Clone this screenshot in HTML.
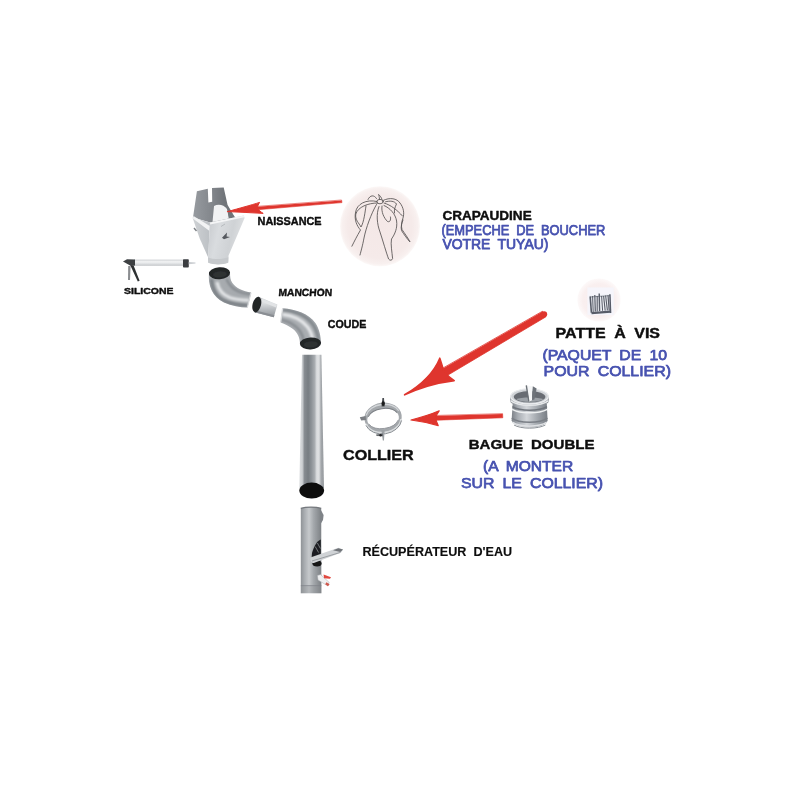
<!DOCTYPE html>
<html>
<head>
<meta charset="utf-8">
<title>Descente de gouttiere</title>
<style>
html,body{margin:0;padding:0;background:#fff;}
body{width:800px;height:800px;overflow:hidden;font-family:"Liberation Sans",sans-serif;}
svg{display:block;}
text{font-family:"Liberation Sans",sans-serif;font-weight:bold;word-spacing:3.5px;}
.k{fill:#0a0a0a;stroke:#0a0a0a;stroke-width:0.38;stroke-linejoin:round;}
.b{fill:#4752b0;stroke:#4752b0;stroke-width:0.75;stroke-linejoin:round;font-weight:normal;}
</style>
</head>
<body>
<svg width="800" height="800" viewBox="0 0 800 800">
<defs>
<filter id="soft" x="-5%" y="-5%" width="110%" height="110%"><feGaussianBlur stdDeviation="0.55"/></filter>
<filter id="soft3" x="-10%" y="-10%" width="120%" height="120%"><feGaussianBlur stdDeviation="0.9"/></filter>
<filter id="soft2" x="-5%" y="-5%" width="110%" height="110%"><feGaussianBlur stdDeviation="0.42"/></filter>
<radialGradient id="gPink" cx="0.5" cy="0.5" r="0.5">
  <stop offset="0" stop-color="#f4e8e7"/>
  <stop offset="0.8" stop-color="#f5eae9"/>
  <stop offset="0.94" stop-color="#f8f0ef"/>
  <stop offset="1" stop-color="#fcf8f7"/>
</radialGradient>
<radialGradient id="gPink2" cx="0.5" cy="0.5" r="0.5">
  <stop offset="0" stop-color="#f8eded"/>
  <stop offset="0.75" stop-color="#f9efef"/>
  <stop offset="1" stop-color="#fdf9f9"/>
</radialGradient>
<clipPath id="cE1"><path d="M209 272.5 C207.8 285 212 296.5 224 302.5 C232 306.2 240 307.2 247.5 307.6 L251.2 292.6 C243 291.4 236 288 232.4 283 C230.4 280 230 277 230 272.5 Z"/></clipPath>
<clipPath id="cE2"><path d="M282.6 308.2 C296 309 309 314 315.4 323 C319.4 329 320.8 336 321 343.5 L300 343.5 C299.8 338 298 333 293 329 C289 326 285 324 280.6 322.4 Z"/></clipPath>
<linearGradient id="gPipe" x1="0" y1="0" x2="1" y2="0">
  <stop offset="0" stop-color="#dcdee0"/>
  <stop offset="0.12" stop-color="#cdd0d3"/>
  <stop offset="0.21" stop-color="#878c91"/>
  <stop offset="0.36" stop-color="#777d82"/>
  <stop offset="0.50" stop-color="#8f9499"/>
  <stop offset="0.62" stop-color="#a9adb1"/>
  <stop offset="0.71" stop-color="#dddfe1"/>
  <stop offset="0.80" stop-color="#dcdee0"/>
  <stop offset="0.88" stop-color="#a4a8ac"/>
  <stop offset="1" stop-color="#94989c"/>
</linearGradient>
<linearGradient id="gRecup" x1="0" y1="0" x2="1" y2="0">
  <stop offset="0" stop-color="#8f9397"/>
  <stop offset="0.18" stop-color="#a9adb1"/>
  <stop offset="0.40" stop-color="#c6c9cc"/>
  <stop offset="0.62" stop-color="#a4a8ac"/>
  <stop offset="0.85" stop-color="#8c9094"/>
  <stop offset="1" stop-color="#7d8185"/>
</linearGradient>
<linearGradient id="gFront" x1="0" y1="0" x2="1" y2="0.3">
  <stop offset="0" stop-color="#c6c9cd"/>
  <stop offset="0.35" stop-color="#d9dcdf"/>
  <stop offset="0.7" stop-color="#cfd2d5"/>
  <stop offset="1" stop-color="#dfe1e3"/>
</linearGradient>
<linearGradient id="gBack" x1="0" y1="0" x2="1" y2="0">
  <stop offset="0" stop-color="#979ba0"/>
  <stop offset="0.45" stop-color="#82868b"/>
  <stop offset="0.75" stop-color="#6f7378"/>
  <stop offset="1" stop-color="#85898e"/>
</linearGradient>
<linearGradient id="gSide" x1="0" y1="0" x2="1" y2="0">
  <stop offset="0" stop-color="#cfd2d5"/>
  <stop offset="1" stop-color="#bcc0c4"/>
</linearGradient>
<linearGradient id="gTube" x1="0" y1="0" x2="0" y2="1">
  <stop offset="0" stop-color="#cdd0d3"/>
  <stop offset="0.35" stop-color="#f3f4f5"/>
  <stop offset="0.7" stop-color="#dcdee0"/>
  <stop offset="1" stop-color="#c2c5c8"/>
</linearGradient>
<linearGradient id="gBague" x1="0" y1="0" x2="1" y2="0">
  <stop offset="0" stop-color="#7c8188"/>
  <stop offset="0.18" stop-color="#a9aeb4"/>
  <stop offset="0.42" stop-color="#d3d6da"/>
  <stop offset="0.7" stop-color="#a4a9af"/>
  <stop offset="1" stop-color="#787d84"/>
</linearGradient>
<linearGradient id="gManchon" x1="0" y1="0" x2="0" y2="1">
  <stop offset="0" stop-color="#b9bdc1"/>
  <stop offset="0.3" stop-color="#dcdee0"/>
  <stop offset="0.65" stop-color="#b4b8bc"/>
  <stop offset="1" stop-color="#8e9297"/>
</linearGradient>
</defs>
<rect width="800" height="800" fill="#ffffff"/>

<!-- ICONS -->
<g id="crapaudine">
  <circle cx="380" cy="226.2" r="40" fill="url(#gPink)" filter="url(#soft)"/>
  <g fill="none" stroke="#555152" stroke-width="0.85" stroke-linecap="round" stroke-linejoin="round" filter="url(#soft2)">
    <!-- hub -->
    <ellipse cx="380" cy="201.6" rx="3.2" ry="2.2"/>
    <!-- left outer loop -->
    <path d="M377 201.5 C366 199 357 204 355.6 212 C354 220 357 226 360.5 230 C357 236 354 242 351.9 246.2"/>
    <path d="M377.5 203 C368 203 358 207 355.8 214 C354.8 220 359 223 361 227 C364 222 365 212 366 206"/>
    <!-- left top small loop -->
    <path d="M368 199.5 C370 195 374 194.5 376.5 198.5"/>
    <!-- second leg left -->
    <path d="M376.5 204.5 C371 214 366 228 364 238 C362.5 246 361 251 360 255"/>
    <!-- centre long loop -->
    <path d="M379 206.5 C376 214 377 224 380 232 C383 241 386 252 388.6 259 C390 260.8 392 260.5 392.6 258.6 C392 252 390.5 244 391.5 239 C395 234 397.5 228 396.6 221 C395.5 214 390 208 384 205.5"/>
    <!-- centre small loop -->
    <path d="M382 206 C381 212 384 218 387.5 221.5 C390 222.5 391 220 390.5 217"/>
    <!-- right loops -->
    <path d="M383 200.5 C390 197 397 198.5 400 203 C403.5 207.5 404.5 213 403 218 C401.5 222 401 226 402 229.5 C405 234 408 238 410 241.9 C407.5 239.5 404 234.5 401.5 230.5 C400.5 226.5 402 223 403 220"/>
    <path d="M384 203 C391 205 397 210 402.5 216"/>
    <path d="M385.5 201.8 C390 200.5 394.5 201 396.5 204 C395 207 394 210 394.5 213"/>
    <path d="M379.5 199 C379.3 197 379 195.5 378.5 194.5 C380 195.5 381.5 197.5 382 199.5"/>
  </g>
</g>
<g id="vis">
  <circle cx="599" cy="300" r="21.6" fill="url(#gPink2)" filter="url(#soft)"/>
  <rect x="587.4" y="287.4" width="26.4" height="27.6" fill="#f6f5fb" filter="url(#soft)"/>
  <g filter="url(#soft2)">
    <path d="M589 295.5 L610.5 294 L611.2 313.5 L590.2 314.2 Z" fill="#eef0f6"/>
    <g stroke="#585c68" stroke-linecap="butt" fill="none">
      <path d="M590.2 296.5 L591.4 312.8" stroke-width="1.6"/>
      <path d="M592.6 296 L593.2 312" stroke-width="1"/>
      <path d="M594.8 295 L595.3 311.5" stroke-width="1.2"/>
      <path d="M597.2 296 L597.2 311.5" stroke-width="1.1"/>
      <path d="M599.2 293.5 L599.6 311" stroke-width="1.4"/>
      <path d="M601.6 296 L602.6 310.8" stroke-width="1"/>
      <path d="M603.6 296 L605.2 310.6" stroke-width="1.1"/>
      <path d="M605.6 295.5 L607.4 310.4" stroke-width="1.1"/>
      <path d="M608 295.2 L609.2 310.5" stroke-width="1.2"/>
      <path d="M609.9 294.2 L610.6 313" stroke-width="1.5"/>
      <path d="M591.5 313.2 L610.5 311.6" stroke-width="2.2"/>
      <path d="M590 297 L610 295.6" stroke-width="0.9" opacity="0.7"/>
    </g>
  </g>
</g>

<!-- NAISSANCE -->
<g id="naissance" filter="url(#soft)">
  <!-- back plate with slot -->
  <path d="M196.9 191.3 L207.8 188.8 L208.4 202.5 L212.2 201.8 L212 188 L223.7 187.5 L227.6 205 L236 219 L212 223 L193 217.5 Z" fill="url(#gBack)"/>
  <!-- inner light patch -->
  <path d="M214 206 C218 203.5 224 204.5 227 209 L229 218.5 L212.5 222 Z" fill="#f1f2f3"/>
  <path d="M227 205 L231.5 212.5 L235.5 218.5 L229 219.5 Z" fill="#6f7479"/>
  <!-- left side face -->
  <path d="M192.5 217.5 L210 222.5 L208.2 257.5 L199.5 238 Z" fill="url(#gSide)"/>
  <path d="M192.8 218.5 L209.5 231 L209.8 226 L193.5 216 Z" fill="#f2f3f4"/>
  <!-- front face -->
  <path d="M210 222.5 L243.8 215.6 L244.6 218 L228.6 255.5 L228.2 262.5 C222 264.8 214 264.8 208.2 262.5 L208 257.5 Z" fill="url(#gFront)"/>
  <path d="M210 222.5 L243.8 215.6 L244.3 217.2 L210.2 224.4 Z" fill="#f4f5f6"/>
  <!-- collar -->
  <path d="M208 257.5 C214 259.6 222 259.6 228.4 257.3 L228.2 262.8 C222 265 214 265 208.2 262.8 Z" fill="#c6c9cc"/>
  <!-- front marks -->
  <path d="M222 237.8 L227 232.5 L226.6 236.6 L230 237 L224 239.2 Z" fill="#55595e"/>
  <path d="M221 226.5 L225 224" stroke="#aeb2b6" stroke-width="0.8" fill="none"/>
  <path d="M194 228 L196.5 231" stroke="#7d8186" stroke-width="1.4"/>
</g>

<!-- SILICONE GUN -->
<g id="gun" filter="url(#soft2)">
  <rect x="134" y="259.6" width="50" height="6.2" fill="url(#gTube)"/>
  <rect x="183" y="259.2" width="5.8" height="8.4" rx="0.8" fill="#3b3d40"/>
  <path d="M188.8 261.9 L195.5 262.6 L195.5 263.4 L188.8 264.2 Z" fill="#c9ccd0"/>
  <path d="M123 261.5 L127 259.2 L135 259.4 L135 265.6 L131 266 Z" fill="#3c3f42"/>
  <path d="M130.4 265.6 L133.6 265.6 L139.6 280.8 L137.8 281.6 Z" fill="#2e3033"/>
  <path d="M128.2 266 L130.6 266 L130 280 L128 280 Z" fill="#8b8d90"/>
</g>

<!-- ELBOW 1 -->
<g id="elbow1" filter="url(#soft)">
  <path d="M209 272.5 C207.8 285 212 296.5 224 302.5 C232 306.2 240 307.2 247.5 307.6 L251.2 292.6 C243 291.4 236 288 232.4 283 C230.4 280 230 277 230 272.5 Z" fill="#a7abaf"/>
  <g clip-path="url(#cE1)"><g filter="url(#soft3)">
  <path d="M211.5 279 C212 290 217 298 226 301.6 C233 304.4 240 305 247.6 305.4" fill="none" stroke="#7b8186" stroke-width="3.4"/>
  <path d="M217 282 C218.5 290 223 295 230 297.6 C236 299.6 242 300 249 300.2" fill="none" stroke="#e6e8ea" stroke-width="3"/>
  <path d="M226.5 279 C229 286 235 291 243 293 L250.6 294.2" fill="none" stroke="#82878c" stroke-width="2.2"/>
  </g></g>
  <path d="M250.9 292.8 L247.4 307.4" stroke="#d6d8da" stroke-width="1.2"/>
  <ellipse cx="219.5" cy="273.2" rx="10.6" ry="6" fill="#232528" transform="rotate(-4 219.5 273.2)"/>
  <ellipse cx="219.8" cy="274.4" rx="7" ry="3.2" fill="#2d3033" transform="rotate(-4 219.5 273.2)"/>
</g>

<!-- MANCHON -->
<g id="manchon" filter="url(#soft)">
  <path d="M258.4 296.8 L277.4 304.6 L273.8 317.2 L254.4 312.2 Z" fill="url(#gManchon)" transform="rotate(0)"/>
  <path d="M262 298.6 L277 304.8 L276.2 307.4 L261.2 301.4 Z" fill="#e2e4e6"/>
  <path d="M256 310.6 L274.4 315.2 L273.8 317.2 L254.6 312.2 Z" fill="#8a8e93"/>
  <ellipse cx="256.8" cy="304.6" rx="4.2" ry="8" fill="#232528" transform="rotate(14 256.8 304.6)"/>
</g>

<!-- ELBOW 2 -->
<g id="elbow2" filter="url(#soft)">
  <path d="M282.6 308.2 C296 309 309 314 315.4 323 C319.4 329 320.8 336 321 343.5 L300 343.5 C299.8 338 298 333 293 329 C289 326 285 324 280.6 322.4 Z" fill="#a9adb1"/>
  <g clip-path="url(#cE2)"><g filter="url(#soft3)">
  <path d="M283 310 C296 311 307 316 313 324.5 C316.6 330 318.4 336 318.8 342" fill="none" stroke="#7f858a" stroke-width="2.8"/>
  <path d="M282.4 314.4 C293 315.6 302 320 307.6 327 C310.8 331.4 312.4 336 312.8 341" fill="none" stroke="#e6e8ea" stroke-width="3.2"/>
  <path d="M281.4 319.6 C289 321.6 296 325.4 300 331 C302.4 334.6 303.4 338 303.6 342" fill="none" stroke="#858a8f" stroke-width="2.4"/>
  </g></g>
  <path d="M282.6 308.4 L280.7 322.2" stroke="#d9dbdd" stroke-width="1.2"/>
  <ellipse cx="310.5" cy="343.4" rx="10.6" ry="6" fill="#232528" transform="rotate(-3 310.5 343.4)"/>
  <ellipse cx="310.8" cy="344.4" rx="7" ry="3.2" fill="#2d3033" transform="rotate(-3 310.5 343.4)"/>
</g>

<!-- LONG PIPE -->
<g id="pipe" filter="url(#soft)">
  <path d="M302 354.8 L321.4 354.8 L324 488 L299.3 488 Z" fill="url(#gPipe)"/>
  <ellipse cx="311.7" cy="490.6" rx="12.4" ry="8" fill="#0d0e10"/>
</g>

<!-- RECUPERATEUR -->
<g id="recup" filter="url(#soft)">
  <path d="M300.8 508.2 C306 506.6 316 506.6 321.2 508.2 L321.4 593.2 L300.8 593.2 Z" fill="url(#gRecup)"/>
  <path d="M300.8 585.8 L321.4 585.8 L321.4 593.2 L300.8 593.2 Z" fill="#8e9296" opacity="0.3"/>
  <path d="M300.8 585.6 L321.4 585.6" stroke="#7f8388" stroke-width="0.7"/>
  <path d="M300.8 508.4 C306 506.8 316 506.8 321.2 508.4" stroke="#75797e" stroke-width="1.2" fill="none"/>
  <path d="M320.4 509 L323.6 515 L323 520 L320.6 524 Z" fill="#7f8388"/>
  <!-- grill -->
  <path d="M320.8 539.5 C317 541 314 546 312 553 L311.6 558 L320.8 555.5 Z" fill="#1d1f22"/>
  <path d="M315.2 546.5 L318.6 552.5 M317.4 543 L320.4 548.5" stroke="#8a8e92" stroke-width="0.8" fill="none"/>
  <!-- hole under spout -->
  <ellipse cx="317" cy="563.4" rx="4.6" ry="3" fill="#141518"/>
  <!-- spout -->
  <path d="M310.4 557.4 L338.4 547.8 L343.2 549.4 L340.8 552.8 L313.8 563 C311.2 563.2 309.8 560 310.4 557.4 Z" fill="#cfd2d5"/>
  <path d="M333 550.2 L338.4 548.2 L343 549.6 L340.4 552 Z" fill="#6f7378"/>
  <path d="M312 561 L340.4 552.4" stroke="#9a9ea2" stroke-width="1" fill="none"/>
  <!-- tap -->
  <path d="M317.4 575.4 L320.6 574.6 L329.2 582.4 L327.6 585.8 L318 580 Z" fill="#f0f1f2" stroke="#a6aaae" stroke-width="0.5"/>
  <path d="M323.6 574.4 L331 577.2 L330 578.8 L324 578.2 Z" fill="#e04a40"/>
  <path d="M326.4 582.2 L329.6 584.2 L328 586.2 L325.2 584.2 Z" fill="#d0584e"/>
</g>

<!-- COLLIER -->
<g id="collier" filter="url(#soft2)">
  <g transform="rotate(-8 383 417.5)">
    <path fill-rule="evenodd" fill="#a4a8ac" d="M364.3 417.5 a18.75 14.8 0 1 0 37.5 0 a18.75 14.8 0 1 0 -37.5 0 Z M367 418.6 a15.9 10 0 1 0 31.8 0 a15.9 10 0 1 0 -31.8 0 Z"/>
    <!-- top: inner face shading -->
    <path d="M366.6 413 A17.4 12.6 0 0 1 399.6 413" fill="none" stroke="#d3d6d9" stroke-width="1.3"/>
    <path d="M368.4 414.6 A15.9 10 0 0 1 397.6 414.6" fill="none" stroke="#7d8186" stroke-width="1"/>
    <!-- bottom: outer face shading -->
    <path d="M365.6 421.4 A17.5 12.4 0 0 0 400.4 421.4" fill="none" stroke="#d9dcde" stroke-width="1.5"/>
    <path d="M365 423 A18.6 14.6 0 0 0 401 423" fill="none" stroke="#80858a" stroke-width="0.9"/>
    <path d="M368 422 A15.9 10 0 0 0 397.8 422" fill="none" stroke="#8a8e93" stroke-width="0.8"/>
  </g>
  <!-- top bolt -->
  <path d="M382.4 398 L384 398 L384.6 406.6 L381.6 406.6 Z" fill="#4a4d51"/>
  <ellipse cx="383.2" cy="403.6" rx="1.7" ry="2.4" fill="#1c1d1f"/>
  <!-- bottom bolt -->
  <path d="M381.4 430 L384.6 430 L384 440.6 L382.8 440.6 Z" fill="#9da1a5"/>
  <path d="M376 434.4 L383 433.6 L383 436.2 L376.6 436 Z" fill="#6a6e72"/>
  <circle cx="380.6" cy="435.2" r="1.2" fill="#232426"/>
  <!-- left tab -->
  <path d="M359.8 417.2 L365.6 416 L366 420 L361.2 420.6 Z" fill="#7b7f84"/>
</g>

<!-- BAGUE DOUBLE -->
<g id="bague" filter="url(#soft)">
  <!-- lower body -->
  <path d="M512.6 404 L546.8 404 L547.6 420.6 C545 430 515 430 511.6 420.6 Z" fill="url(#gBague)"/>
  <!-- bottom ring shading -->
  <path d="M511.8 418.2 C519 423.6 540 423.6 547.4 418.2" fill="none" stroke="#7a7f86" stroke-width="1.5"/>
  <path d="M512.4 422.2 C520 427.4 539 427.4 546.8 422.2" fill="none" stroke="#dfe1e4" stroke-width="1.4"/>
  <path d="M514 425 C521 429.2 538 429.2 545.4 425" fill="none" stroke="#8b9096" stroke-width="1"/>
  <!-- waist groove -->
  <path d="M512.4 406.6 C520 411.4 539 411.4 547 406.6" fill="none" stroke="#6f747b" stroke-width="1.6"/>
  <path d="M512.2 409.4 C520 414 539 414 547.2 409.4" fill="none" stroke="#eef0f1" stroke-width="1.5"/>
  <!-- rim band -->
  <path d="M510.2 396.8 L548.8 396.8 L548.6 402 C543 409 516 409 510.4 402 Z" fill="url(#gBague)"/>
  <path d="M510.6 400.6 C518 406.8 541 406.8 548.4 400.6" fill="none" stroke="#e6e8ea" stroke-width="1.5"/>
  <!-- top rim -->
  <ellipse cx="529.5" cy="396.8" rx="19.4" ry="8.2" fill="#cfd2d6"/>
  <ellipse cx="529.5" cy="396.3" rx="18.8" ry="7.6" fill="none" stroke="#eceef0" stroke-width="1.1"/>
  <ellipse cx="529.6" cy="396.8" rx="15.8" ry="5.8" fill="#676c73"/>
  <path d="M516.4 399.2 C520 402.6 540 402.6 543.2 399.2 C539 397 520 397 516.4 399.2 Z" fill="#9da2a8"/>
  <!-- slot tab -->
  <path d="M526.2 385.4 L532.6 386.2 L532 400.2 L529.2 401.4 Z" fill="#f6f7f8"/>
  <path d="M525.6 385.4 L527 385.2 L529.4 401 L528.2 401.4 Z" fill="#6a6f76"/>
  <path d="M532.8 386.2 L536.6 388.4 L534.4 399.6 L532 400 Z" fill="#6e737a"/>
</g>

<!-- ARROWS -->
<g id="arrows" filter="url(#soft2)" fill="#df352d" stroke="#df352d" stroke-linejoin="round" stroke-linecap="round">
  <!-- naissance arrow -->
  <path d="M341.6 200.4 L342 202.6 L254.5 210 L254 207 Z" stroke-width="0.6"/>
  <path d="M227.6 211.6 C240 208 251 205.2 259.6 202.4 C258.2 204.6 257.6 206.4 257.4 208 C258.6 210 260.6 211.8 263.2 213.4 C251 212.6 239 212.2 227.6 211.6 Z" stroke-width="1"/>
  <!-- big arrow to collier -->
  <path d="M542.6 311.6 L545.6 317 L443 378 L438.6 371 Z" stroke-width="0.8"/>
  <circle cx="544.1" cy="314.3" r="3.1" stroke="none"/>
  <path d="M404.6 394.8 C417 387.5 433 375 439.8 358.2 C441.4 363 442.6 367 443.6 370.4 C446.6 374.6 450 378 454.2 380.6 C438 382.6 420 387.6 404.6 394.8 Z" stroke-width="1.6"/>
  <!-- small arrow -->
  <path d="M502.6 414 L502.8 417.8 L431 420.4 L430.6 416 Z" stroke-width="0.6"/>
  <path d="M411 420 C421 417.4 431 414.4 439.2 410.8 C437.2 413.4 436 415.8 435.6 418 C436 420.6 437 423 438.2 425.6 C429 423 420 421.2 411 420 Z" stroke-width="1.2"/>
</g>

<!-- TEXT -->
<g id="labels" filter="url(#soft2)">
  <text class="k" x="257.6" y="224.6" font-size="10.8" textLength="64" lengthAdjust="spacingAndGlyphs">NAISSANCE</text>
  <text class="k" x="124" y="293.8" font-size="9.6" textLength="49.5" lengthAdjust="spacingAndGlyphs">SILICONE</text>
  <text class="k" x="0" y="0" font-size="10.3" textLength="53.7" lengthAdjust="spacingAndGlyphs" transform="translate(278.2 296.3) skewX(-4)">MANCHON</text>
  <text class="k" x="327.8" y="327.5" font-size="11.2" textLength="38.5" lengthAdjust="spacingAndGlyphs">COUDE</text>
  <text class="k" x="343" y="460" font-size="14.4" textLength="70.7" lengthAdjust="spacingAndGlyphs">COLLIER</text>
  <text class="k" style="stroke-width:0.12" x="362.4" y="555.6" font-size="12.4" textLength="149.8" lengthAdjust="spacingAndGlyphs">RÉCUPÉRATEUR D'EAU</text>

  <text class="k" x="442.4" y="220.3" font-size="13" textLength="89.3" lengthAdjust="spacingAndGlyphs">CRAPAUDINE</text>
  <text class="b" x="441.4" y="235.2" font-size="14" textLength="164" lengthAdjust="spacingAndGlyphs">(EMPECHE DE BOUCHER</text>
  <text class="b" x="442.4" y="249.4" font-size="14" textLength="106" lengthAdjust="spacingAndGlyphs">VOTRE TUYAU)</text>

  <text class="k" x="555.6" y="337.5" font-size="13.8" textLength="104.4" lengthAdjust="spacingAndGlyphs">PATTE À VIS</text>
  <text class="b" x="542.4" y="360" font-size="15" textLength="124.6" lengthAdjust="spacingAndGlyphs">(PAQUET DE 10</text>
  <text class="b" x="543.6" y="376" font-size="15" textLength="127.4" lengthAdjust="spacingAndGlyphs">POUR COLLIER)</text>

  <text class="k" x="468.7" y="448.8" font-size="13.6" textLength="125.8" lengthAdjust="spacingAndGlyphs">BAGUE DOUBLE</text>
  <text class="b" x="483" y="470.7" font-size="15" textLength="90.2" lengthAdjust="spacingAndGlyphs">(A MONTER</text>
  <text class="b" x="461" y="487.7" font-size="15" textLength="142" lengthAdjust="spacingAndGlyphs">SUR LE COLLIER)</text>
</g>
</svg>
</body>
</html>
